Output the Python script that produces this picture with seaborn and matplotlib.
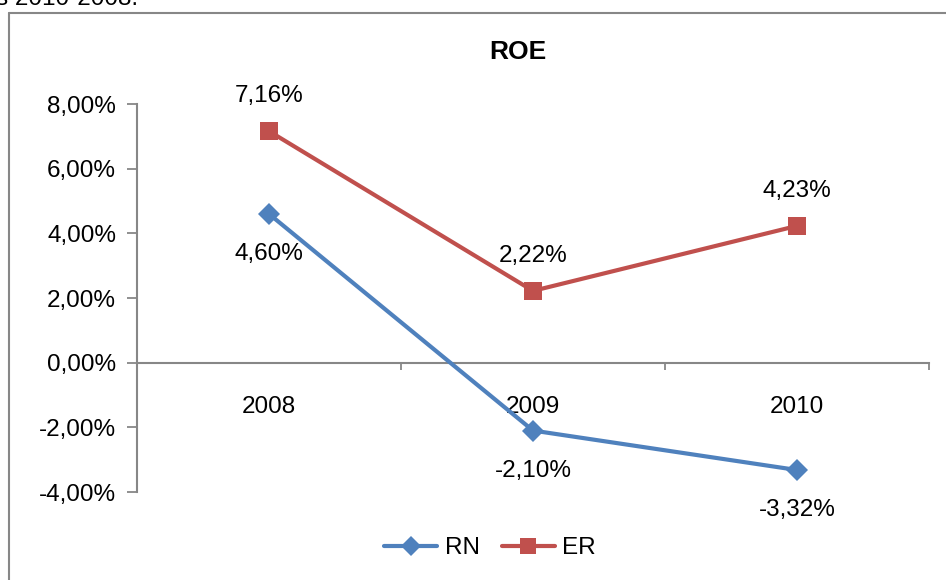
import matplotlib
matplotlib.use("Agg")
import matplotlib.pyplot as plt
from matplotlib.lines import Line2D
import seaborn as sns
import pandas as pd

# ROE by year, in percent
years = ["2008", "2009", "2010"]
rn_values = [4.60, -2.10, -3.32]
er_values = [7.16, 2.22, 4.23]
series_names = ["RN", "ER"]
y_ticks = [-4, -2, 0, 2, 4, 6, 8]

colors = {"RN": "#4F81BD", "ER": "#C0504D"}
markers = {"RN": "D", "ER": "s"}
GRAY = "#878787"
FS = 17.5

sns.set_style("white")
plt.rcParams["font.family"] = ["Liberation Sans", "DejaVu Sans"]
plt.rcParams["text.color"] = "black"
plt.rcParams["xtick.labelcolor"] = "black"
plt.rcParams["ytick.labelcolor"] = "black"

df = pd.DataFrame({
    "pos": list(range(len(years))) * 2,
    "value": rn_values + er_values,
    "series": ["RN"] * len(years) + ["ER"] * len(years),
})

W, H = 946, 580
fig = plt.figure(figsize=(W / 100, H / 100), dpi=100)
ax = fig.add_axes([137 / W, 1 - 492 / H, (929 - 137) / W, (492 - 104) / H])

sns.lineplot(data=df, x="pos", y="value", hue="series", style="series",
             palette=colors, markers=markers, dashes=False, linewidth=3,
             markersize=13, markeredgewidth=0, legend=False, ax=ax,
             hue_order=series_names, style_order=series_names)
# diamonds look smaller than squares at the same size
for line in ax.lines:
    if line.get_marker() == "D":
        line.set_markersize(11)

ax.set_xlim(-0.5, len(years) - 0.5)
ax.set_ylim(min(y_ticks), max(y_ticks))
ax.set_xlabel("")
ax.set_ylabel("")

# y axis
ax.set_yticks(y_ticks)
ax.set_yticklabels([f"{v:.2f}".replace(".", ",") + "%" for v in y_ticks])
ax.tick_params(axis="y", direction="out", length=7, width=1.3, color=GRAY,
               pad=8, labelsize=FS, left=True, labelcolor="black")
for side in ["top", "right", "bottom"]:
    ax.spines[side].set_visible(False)
ax.spines["left"].set_color(GRAY)
ax.spines["left"].set_linewidth(1.5)
ax.set_xticks([])

# category axis drawn at zero
zero_frac = (0 - min(y_ticks)) / (max(y_ticks) - min(y_ticks))
sec = ax.secondary_xaxis(zero_frac)
sec.spines["bottom"].set_color(GRAY)
sec.spines["bottom"].set_linewidth(1.5)
sec.set_xticks([i + 0.5 for i in range(len(years))])
sec.set_xticklabels([])
sec.tick_params(axis="x", which="major", direction="out", length=5,
                width=1.3, color=GRAY)
sec.set_xticks(list(range(len(years))), minor=True)
sec.set_xticklabels(years, minor=True)
sec.tick_params(axis="x", which="minor", length=0, pad=24, labelsize=FS,
                labelcolor="black")

# data labels
for i, v in enumerate(rn_values):
    ax.annotate(f"{v:.2f}".replace(".", ",") + "%", (i, v),
                xytext=(0, -29), textcoords="offset points",
                ha="center", va="center", fontsize=FS)
for i, v in enumerate(er_values):
    ax.annotate(f"{v:.2f}".replace(".", ",") + "%", (i, v),
                xytext=(0, 25), textcoords="offset points",
                ha="center", va="center", fontsize=FS)

# title
fig.text(518 / W, 1 - 52 / H, "ROE", ha="center", va="center",
         fontsize=19, fontweight="bold")

# legend
handles = [Line2D([], [], color=colors[s], marker=markers[s], linewidth=3,
                  markersize=12 if s == "ER" else 10, markeredgewidth=0)
           for s in series_names]
fig.legend(handles, series_names, loc="center", ncol=2,
           bbox_to_anchor=(490 / W, 1 - 548 / H), frameon=False,
           fontsize=FS, handlelength=2.2, handletextpad=0.3,
           columnspacing=0.9)

# chart frame
fx, fy = 9 / W, 1 - 13 / H
fig.add_artist(Line2D([fx, fx], [0, fy], transform=fig.transFigure,
                      color=GRAY, linewidth=1.5))
fig.add_artist(Line2D([fx, 1.0], [fy, fy], transform=fig.transFigure,
                      color=GRAY, linewidth=1.5))

# preceding document line
fig.text(-4 / W, 1 - 5 / H, "s 2010-2008.", ha="left", va="baseline",
         fontsize=FS)

fig.savefig("out.png", dpi=100)
